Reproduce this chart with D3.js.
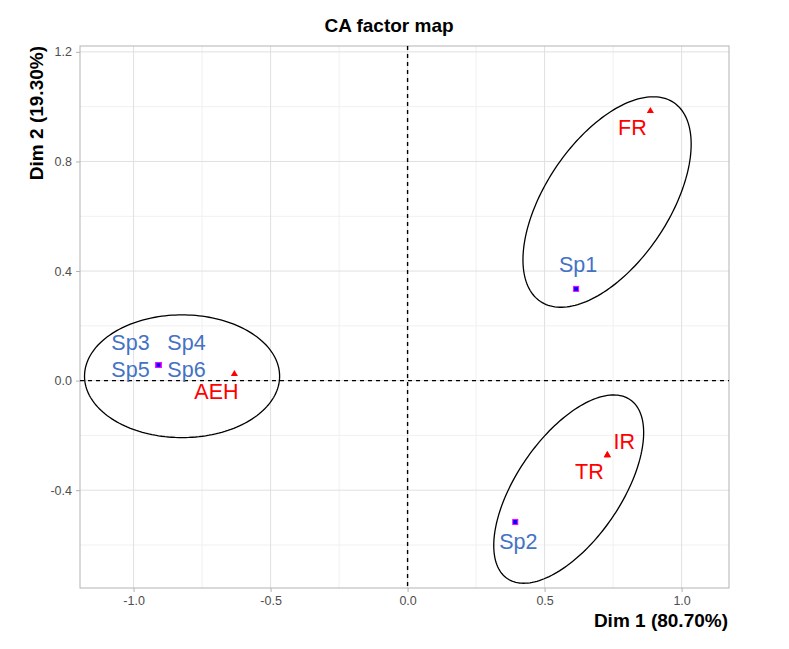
<!DOCTYPE html>
<html lang="en">
  <head>
    <meta charset="UTF-8" />
    <title>CA factor map</title>
    <script src="https://cdn.jsdelivr.net/npm/d3@7"></script>
    <style>
      body {
        margin: 0;
        background: #fff;
      }
      svg {
        display: block;
        font-family: "Liberation Sans", Arial, sans-serif;
      }
    </style>
  </head>

  <body>
    <div id="chart"></div>
    <script>
      // column points (red triangles)
      const colNames = ["FR", "IR", "TR", "AEH"];
      const colDim1 = [0.886, 0.729, 0.729, -0.632];
      const colDim2 = [0.984, -0.272, -0.272, 0.024];

      // row points (blue squares)
      const rowNames = ["Sp1", "Sp2", "Sp3", "Sp4", "Sp5", "Sp6"];
      const rowDim1 = [0.615, 0.393, -0.909, -0.909, -0.909, -0.909];
      const rowDim2 = [0.335, -0.516, 0.057, 0.057, 0.057, 0.057];

      // cluster ellipses: centre, semi axes, rotation (degrees)
      const ellCx = [-0.823, 0.728, 0.588];
      const ellCy = [0.016, 0.652, -0.396];
      const ellA = [0.356, 0.437, 0.396];
      const ellB = [0.224, 0.2255, 0.19];
      const ellAngle = [0, 56.2, 55.5];

      const xTicks = [-1.0, -0.5, 0.0, 0.5, 1.0];
      const yTicks = [-0.4, 0.0, 0.4, 0.8, 1.2];
      const xMinor = [-0.75, -0.25, 0.25, 0.75];
      const yMinor = [-0.6, -0.2, 0.2, 0.6, 1.0];

      // label nudges in px (text-anchor middle, baseline)
      const labelShift = {
        FR: [-18, 24], IR: [17, -6], TR: [-18, 24], AEH: [-18, 25],
        Sp1: [2, -17], Sp2: [3, 27],
        Sp3: [-28, -15], Sp4: [28, -15], Sp5: [-28, 12], Sp6: [28, 12],
      };

      const width = 789;
      const height = 649;
      const panel = { left: 80, right: 729, top: 46, bottom: 588 };

      const x = d3.scaleLinear().domain([-1.1955, 1.173]).range([panel.left, panel.right]);
      const y = d3.scaleLinear().domain([-0.757, 1.2215]).range([panel.bottom, panel.top]);

      const svg = d3
        .select("#chart")
        .append("svg")
        .attr("width", width)
        .attr("height", height);

      // grid
      const grid = svg.append("g");
      grid.selectAll(".xminor").data(xMinor).enter().append("line")
        .attr("x1", (d) => x(d)).attr("x2", (d) => x(d))
        .attr("y1", panel.top).attr("y2", panel.bottom)
        .attr("stroke", "#f0f0f0").attr("stroke-width", 1);
      grid.selectAll(".yminor").data(yMinor).enter().append("line")
        .attr("y1", (d) => y(d)).attr("y2", (d) => y(d))
        .attr("x1", panel.left).attr("x2", panel.right)
        .attr("stroke", "#f0f0f0").attr("stroke-width", 1);
      grid.selectAll(".xmajor").data(xTicks).enter().append("line")
        .attr("x1", (d) => x(d)).attr("x2", (d) => x(d))
        .attr("y1", panel.top).attr("y2", panel.bottom)
        .attr("stroke", "#e0e0e0").attr("stroke-width", 1);
      grid.selectAll(".ymajor").data(yTicks).enter().append("line")
        .attr("y1", (d) => y(d)).attr("y2", (d) => y(d))
        .attr("x1", panel.left).attr("x2", panel.right)
        .attr("stroke", "#e0e0e0").attr("stroke-width", 1);

      // axes
      const xAxis = svg.append("g")
        .attr("transform", `translate(0,${panel.bottom})`)
        .call(d3.axisBottom(x).tickValues(xTicks).tickSize(4).tickPadding(4)
          .tickFormat((d) => d.toFixed(1)));
      const yAxis = svg.append("g")
        .attr("transform", `translate(${panel.left},0)`)
        .call(d3.axisLeft(y).tickValues(yTicks).tickSize(4).tickPadding(4)
          .tickFormat((d) => d.toFixed(1)));
      [xAxis, yAxis].forEach((g) => {
        g.select(".domain").remove();
        g.selectAll(".tick line").attr("stroke", "#b3b3b3");
        g.selectAll(".tick text")
          .attr("fill", "#4d4d4d")
          .attr("font-size", "12.5px")
          .attr("font-family", "Liberation Sans, Arial, sans-serif");
      });

      // panel border
      svg.append("rect")
        .attr("x", panel.left).attr("y", panel.top)
        .attr("width", panel.right - panel.left)
        .attr("height", panel.bottom - panel.top)
        .attr("fill", "none").attr("stroke", "#b3b3b3").attr("stroke-width", 1);

      // reference lines at 0
      svg.append("line")
        .attr("x1", x(0)).attr("x2", x(0))
        .attr("y1", panel.top).attr("y2", panel.bottom)
        .attr("stroke", "#000").attr("stroke-width", 1.4).attr("stroke-dasharray", "4,4");
      svg.append("line")
        .attr("y1", y(0)).attr("y2", y(0))
        .attr("x1", panel.left).attr("x2", panel.right)
        .attr("stroke", "#000").attr("stroke-width", 1.4).attr("stroke-dasharray", "4,4");

      // ellipses
      const line = d3.line().x((p) => x(p[0])).y((p) => y(p[1]));
      ellCx.forEach((cx, i) => {
        const rot = (ellAngle[i] * Math.PI) / 180;
        const pts = d3.range(0, 361, 2).map((deg) => {
          const t = (deg * Math.PI) / 180;
          const u = ellA[i] * Math.cos(t);
          const v = ellB[i] * Math.sin(t);
          return [cx + u * Math.cos(rot) - v * Math.sin(rot), ellCy[i] + u * Math.sin(rot) + v * Math.cos(rot)];
        });
        svg.append("path")
          .attr("d", line(pts))
          .attr("fill", "none").attr("stroke", "#000").attr("stroke-width", 1.3);
      });

      // row points
      svg.selectAll(".rowpt").data(rowNames).enter().append("rect")
        .attr("x", (d, i) => x(rowDim1[i]) - 2.5)
        .attr("y", (d, i) => y(rowDim2[i]) - 2.5)
        .attr("width", 5).attr("height", 5)
        .attr("fill", "#0000ff").attr("stroke", "#ff00ff").attr("stroke-width", 1);

      // column points
      svg.selectAll(".colpt").data(colNames).enter().append("path")
        .attr("d", d3.symbol().type(d3.symbolTriangle).size(22))
        .attr("transform", (d, i) => `translate(${x(colDim1[i])},${y(colDim2[i])})`)
        .attr("fill", "#ff0000");

      // labels
      svg.selectAll(".rowlab").data(rowNames).enter().append("text")
        .attr("x", (d, i) => x(rowDim1[i]) + labelShift[d][0])
        .attr("y", (d, i) => y(rowDim2[i]) + labelShift[d][1])
        .attr("text-anchor", "middle")
        .attr("font-size", "21.5px")
        .attr("fill", "#4472c4")
        .text((d) => d);
      svg.selectAll(".collab").data(colNames).enter().append("text")
        .attr("x", (d, i) => x(colDim1[i]) + labelShift[d][0])
        .attr("y", (d, i) => y(colDim2[i]) + labelShift[d][1])
        .attr("text-anchor", "middle")
        .attr("font-size", "21.5px")
        .attr("fill", "#ff0000")
        .text((d) => d);

      // titles
      svg.append("text")
        .attr("x", 389).attr("y", 31.5)
        .attr("text-anchor", "middle")
        .attr("font-size", "19px").attr("font-weight", "bold")
        .text("CA factor map");
      svg.append("text")
        .attr("x", panel.right - 1).attr("y", 626.5)
        .attr("text-anchor", "end")
        .attr("font-size", "19px").attr("font-weight", "bold")
        .text("Dim 1 (80.70%)");
      svg.append("text")
        .attr("transform", `translate(43,${panel.top}) rotate(-90)`)
        .attr("text-anchor", "end")
        .attr("font-size", "19px").attr("font-weight", "bold")
        .text("Dim 2 (19.30%)");
    </script>
  </body>
</html>
